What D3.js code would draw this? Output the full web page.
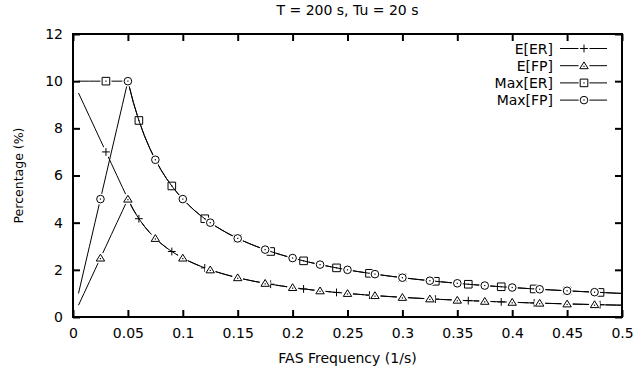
<!DOCTYPE html>
<html><head><meta charset="utf-8">
<script src="https://cdn.jsdelivr.net/npm/d3@7/dist/d3.min.js"></script>
<style>
body{margin:0;background:#fff}
svg{display:block}
text{font-family:"DejaVu Sans",sans-serif;font-size:14px;fill:#000}
</style>
</head><body>
<svg id="chart" width="636" height="375"></svg>
<script>
// ---------- data ----------
const freq = [
0.005,0.01,0.015,0.02,0.025,0.03,0.035,0.04,0.045,0.05,
0.055,0.06,0.065,0.07,0.075,0.08,0.085,0.09,0.095,0.1,
0.105,0.11,0.115,0.12,0.125,0.13,0.135,0.14,0.145,0.15,
0.155,0.16,0.165,0.17,0.175,0.18,0.185,0.19,0.195,0.2,
0.205,0.21,0.215,0.22,0.225,0.23,0.235,0.24,0.245,0.25,
0.255,0.26,0.265,0.27,0.275,0.28,0.285,0.29,0.295,0.3,
0.305,0.31,0.315,0.32,0.325,0.33,0.335,0.34,0.345,0.35,
0.355,0.36,0.365,0.37,0.375,0.38,0.385,0.39,0.395,0.4,
0.405,0.41,0.415,0.42,0.425,0.43,0.435,0.44,0.445,0.45,
0.455,0.46,0.465,0.47,0.475,0.48,0.485,0.49,0.495,0.5];

const eER = [
9.5,9,8.5,8,7.5,7,6.5,6,5.5,5,
4.545,4.167,3.846,3.571,3.333,3.125,2.941,2.778,2.632,2.5,
2.381,2.273,2.174,2.083,2.0,1.923,1.852,1.786,1.724,1.667,
1.613,1.563,1.515,1.471,1.429,1.389,1.351,1.316,1.282,1.25,
1.220,1.190,1.163,1.136,1.111,1.087,1.064,1.042,1.020,1.0,
0.980,0.962,0.943,0.926,0.909,0.893,0.877,0.862,0.847,0.833,
0.820,0.806,0.794,0.781,0.769,0.758,0.746,0.735,0.725,0.714,
0.704,0.694,0.685,0.676,0.667,0.658,0.649,0.641,0.633,0.625,
0.617,0.610,0.602,0.595,0.588,0.581,0.575,0.568,0.562,0.556,
0.549,0.543,0.538,0.532,0.526,0.521,0.515,0.510,0.505,0.5];

const eFP = [
0.5,1,1.5,2,2.5,3,3.5,4,4.5,5,
4.545,4.167,3.846,3.571,3.333,3.125,2.941,2.778,2.632,2.5,
2.381,2.273,2.174,2.083,2.0,1.923,1.852,1.786,1.724,1.667,
1.613,1.563,1.515,1.471,1.429,1.389,1.351,1.316,1.282,1.25,
1.220,1.190,1.163,1.136,1.111,1.087,1.064,1.042,1.020,1.0,
0.980,0.962,0.943,0.926,0.909,0.893,0.877,0.862,0.847,0.833,
0.820,0.806,0.794,0.781,0.769,0.758,0.746,0.735,0.725,0.714,
0.704,0.694,0.685,0.676,0.667,0.658,0.649,0.641,0.633,0.625,
0.617,0.610,0.602,0.595,0.588,0.581,0.575,0.568,0.562,0.556,
0.549,0.543,0.538,0.532,0.526,0.521,0.515,0.510,0.505,0.5];

const maxER = [
10,10,10,10,10,10,10,10,10,10,
9.091,8.333,7.692,7.143,6.667,6.25,5.882,5.556,5.263,5.0,
4.762,4.545,4.348,4.167,4.0,3.846,3.704,3.571,3.448,3.333,
3.226,3.125,3.030,2.941,2.857,2.778,2.703,2.632,2.564,2.5,
2.439,2.381,2.326,2.273,2.222,2.174,2.128,2.083,2.041,2.0,
1.961,1.923,1.887,1.852,1.818,1.786,1.754,1.724,1.695,1.667,
1.639,1.613,1.587,1.563,1.538,1.515,1.493,1.471,1.449,1.429,
1.408,1.389,1.370,1.351,1.333,1.316,1.299,1.282,1.266,1.25,
1.235,1.220,1.205,1.190,1.176,1.163,1.149,1.136,1.124,1.111,
1.099,1.087,1.075,1.064,1.053,1.042,1.031,1.020,1.010,1.0];

const maxFP = [
1,2,3,4,5,6,7,8,9,10,
9.091,8.333,7.692,7.143,6.667,6.25,5.882,5.556,5.263,5.0,
4.762,4.545,4.348,4.167,4.0,3.846,3.704,3.571,3.448,3.333,
3.226,3.125,3.030,2.941,2.857,2.778,2.703,2.632,2.564,2.5,
2.439,2.381,2.326,2.273,2.222,2.174,2.128,2.083,2.041,2.0,
1.961,1.923,1.887,1.852,1.818,1.786,1.754,1.724,1.695,1.667,
1.639,1.613,1.587,1.563,1.538,1.515,1.493,1.471,1.449,1.429,
1.408,1.389,1.370,1.351,1.333,1.316,1.299,1.282,1.266,1.25,
1.235,1.220,1.205,1.190,1.176,1.163,1.149,1.136,1.124,1.111,
1.099,1.087,1.075,1.064,1.053,1.042,1.031,1.020,1.010,1.0];

const seriesNames = ["E[ER]","E[FP]","Max[ER]","Max[FP]"];
const seriesShapes = ["plus","triangle","square","circle"];
const markerEvery = [6,5,6,5];   // point interval (data points)
const markerStart = [5,4,5,4];   // first marked data index

const xTicks = [0,0.05,0.1,0.15,0.2,0.25,0.3,0.35,0.4,0.45,0.5];
const xTickLabels = ["0","0.05","0.1","0.15","0.2","0.25","0.3","0.35","0.4","0.45","0.5"];
const yTicks = [0,2,4,6,8,10,12];

const titleText = "T = 200 s, Tu = 20 s";
const xTitle = "FAS Frequency (1/s)";
const yTitle = "Percentage (%)";

// ---------- drawing ----------
const seriesValues = [eER, eFP, maxER, maxFP];
const svg = d3.select("#chart");
const L = 73, R = 622, T = 34, B = 317;
const x = d3.scaleLinear().domain([0,0.5]).range([L,R]);
const y = d3.scaleLinear().domain([0,12]).range([B,T]);

// axes (inward ticks, mirrored)
const tl = 7;
const ax = svg.append("g").attr("class","axes");
ax.append("g").attr("transform",`translate(0,${B})`)
  .call(d3.axisBottom(x).tickValues(xTicks).tickSizeInner(-tl).tickSizeOuter(0).tickPadding(11)
    .tickFormat((d,i)=>xTickLabels[i]));
ax.append("g").attr("transform",`translate(0,${T})`)
  .call(d3.axisTop(x).tickValues(xTicks).tickSizeInner(-tl).tickSizeOuter(0).tickFormat(""));
ax.append("g").attr("transform",`translate(${L},0)`)
  .call(d3.axisLeft(y).tickValues(yTicks).tickSizeInner(-tl).tickSizeOuter(0).tickPadding(10)
    .tickFormat(d3.format("d")));
ax.append("g").attr("transform",`translate(${R},0)`)
  .call(d3.axisRight(y).tickValues(yTicks).tickSizeInner(-tl).tickSizeOuter(0).tickFormat(""));
ax.selectAll(".domain").remove();
ax.selectAll(".tick line").attr("stroke","#000").attr("stroke-width",2);
ax.selectAll("text").attr("font-family",null).attr("font-size",null).style("font-size","14px");

const shapePath = {
  plus: "M-3.9,0H3.9M0,-3.9V3.9",
  triangle: "M0,-3.8L4.2,3.0L-4.2,3.0Z",
  square: "M-3.8,-3.8H3.8V3.8H-3.8Z",
  circle: "M3.8,0A3.8,3.8 0 1,1 -3.8,0A3.8,3.8 0 1,1 3.8,0Z"
};

function drawMarker(g, shape, cx, cy){
  g.append("circle").attr("cx",cx).attr("cy",cy).attr("r",5.5).attr("fill","#fff");
  g.append("path").attr("d",shapePath[shape]).attr("transform",`translate(${cx},${cy})`)
    .attr("fill","none").attr("stroke","#000").attr("stroke-width",1);
  if(shape!=="plus"){
    g.append("rect").attr("x",cx-0.6).attr("y",cy-0.6+(shape==="triangle"?0.6:0)).attr("width",1.2).attr("height",1.2).attr("fill","#000");
  }
}

const line = d3.line().x(d=>x(d[0])).y(d=>y(d[1]));
const plot = svg.append("g");
seriesValues.forEach((vals,si)=>{
  const pts = freq.map((f,i)=>[f,vals[i]]);
  const g = plot.append("g");
  g.append("path").attr("d",line(pts)).attr("fill","none").attr("stroke","#000").attr("stroke-width",1);
  pts.forEach((p,i)=>{
    if(i>=markerStart[si] && (i-markerStart[si])%markerEvery[si]===0 && p[0]<0.5){
      drawMarker(g, seriesShapes[si], x(p[0]), y(p[1]));
    }
  });
});

// border
svg.append("rect").attr("x",L).attr("y",T).attr("width",R-L).attr("height",B-T)
  .attr("fill","none").attr("stroke","#000").attr("stroke-width",2);

// legend
const lg = svg.append("g");
seriesNames.forEach((n,i)=>{
  const yy = 48.5 + i*17.2;
  lg.append("text").attr("x",553).attr("y",yy).attr("dy","0.36em").attr("text-anchor","end").text(n);
  lg.append("line").attr("x1",560).attr("x2",607).attr("y1",yy).attr("y2",yy).attr("stroke","#000").attr("stroke-width",1);
  drawMarker(lg, seriesShapes[i], 584, yy);
});

// titles
svg.append("text").attr("x",(L+R)/2).attr("y",15).attr("text-anchor","middle").text(titleText);
svg.append("text").attr("x",(L+R)/2).attr("y",363).attr("text-anchor","middle").text(xTitle);
svg.append("text").attr("transform",`translate(22.5,${(T+B)/2}) rotate(-90)`).attr("text-anchor","middle")
  .style("font-size","12.5px").text(yTitle);
</script>
</body></html>
